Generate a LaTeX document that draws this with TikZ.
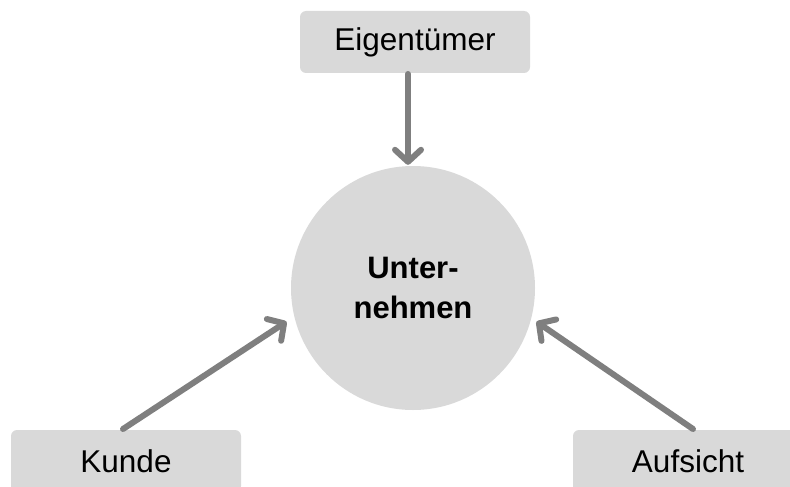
\documentclass[tikz,border=0pt]{standalone}
\usepackage{fontspec}
\setmainfont{Liberation Sans}
\usetikzlibrary{arrows.meta}
\definecolor{boxgray}{HTML}{D9D9D9}
\definecolor{arrgray}{HTML}{7F7F7F}
\begin{document}
\begin{tikzpicture}[x=1pt,y=-1pt,
  actor/.style={draw=none,fill=boxgray,rounded corners=6pt,minimum width=230pt,minimum height=62pt,inner sep=0pt,font=\fontsize{31.5}{36}\selectfont},
  firm/.style={circle,draw=none,fill=boxgray,minimum size=244pt,inner sep=0pt,align=center,font=\fontsize{31}{40}\selectfont\bfseries},
  link/.style={draw=arrgray,line width=6pt,line cap=round,-{Straight Barb[length=12pt,width=26pt,line width=6pt,line cap=round,line join=round]}}]
\useasboundingbox (0,0) rectangle (790,487);
\node[firm] (u) at (413,288) {Unter-\\nehmen};
\node[actor] (eig) at (415,42) {Eigentümer};
\node[actor] (kun) at (126,461) {Kunde};
\node[actor] (auf) at (688,461) {Aufsicht};
\coordinate (eigs) at (408,73);
\coordinate (kuns) at (123,429);
\coordinate (aufs) at (693,429);
\draw[link,shorten <=1pt] (eigs) -- ([shift={(-5,-1)}]u.north);
\draw[link] (kuns) -- ([shift={(-9,0)}]u.196);
\draw[link] (aufs) -- ([shift={(6,0)}]u.-16);
\end{tikzpicture}
\end{document}
